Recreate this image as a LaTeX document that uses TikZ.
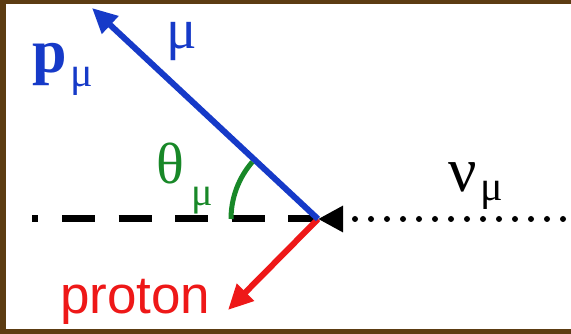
\documentclass[tikz,border=0pt]{standalone}
\usepackage{fontspec}
\setmainfont{Liberation Serif}
\newfontfamily\arialfont{Liberation Sans}
\usetikzlibrary{arrows.meta}
\definecolor{framecol}{RGB}{92,60,18}
\definecolor{mublue}{RGB}{22,58,200}
\definecolor{pred}{RGB}{238,24,24}
\definecolor{thgreen}{RGB}{24,136,40}
\begin{document}
\begin{tikzpicture}[x=1pt,y=-1pt,
  lbl/.style={inner sep=0pt, anchor=base west},
  track/.style={line width=6pt},
  bigtip/.style={-{Triangle[length=25pt,width=23pt]}}]
\fill[framecol] (0,0) rectangle (571,334);
\fill[white] (6,4) rectangle (571,329);
\useasboundingbox (0,0) rectangle (571,334);
\coordinate (V) at (318,219);
\coordinate (L) at (32,219);
\coordinate (E) at (563,219);
\coordinate (B) at (92,8);
\coordinate (R) at (228,310);
% beam line (dashed) and incoming neutrino (dotted)
\draw[line width=7pt, dash pattern=on 6pt off 24pt on 33pt off 23.5pt on 33pt off 23.5pt on 33pt off 23.5pt on 33pt off 23.5pt on 40pt off 0pt] (L) -- (V);
\draw[line width=6pt, line cap=round, dash pattern=on 0pt off 16pt, -{Triangle[length=25pt,width=25pt]}] (E) -- (V);
% outgoing tracks
\draw[track, pred, bigtip] (V) -- (R);
\draw[track, mublue, bigtip] (V) -- (B);
% angle
\draw[line width=5pt, thgreen] (V) ++(-87,0) arc[start angle=180, end angle=221, radius=87];
% labels
\node[lbl, mublue, font=\fontsize{62}{62}\selectfont\bfseries] (pm) at (32,73) {p};
\node[lbl, mublue, font=\fontsize{42}{42}\selectfont] (pmsub) at (70,87) {μ};
\node[lbl, mublue, font=\fontsize{57}{57}\selectfont] (mu) at (166,49) {μ};
\node[lbl, thgreen, font=\fontsize{58}{58}\selectfont] (th) at (156,184) {θ};
\node[lbl, thgreen, font=\fontsize{40}{40}\selectfont] (thsub) at (191,206) {μ};
\node[lbl, font=\fontsize{63}{63}\selectfont] (nu) at (448,192) {ν};
\node[lbl, font=\fontsize{42}{42}\selectfont] (nusub) at (480,201) {μ};
\node[lbl, pred, font=\arialfont\fontsize{53}{53}\selectfont] (pr) at (60,313) {proton};
\end{tikzpicture}
\end{document}
